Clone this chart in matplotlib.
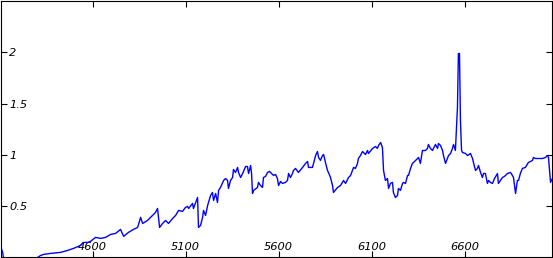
import matplotlib
matplotlib.use('Agg')
import matplotlib.pyplot as plt

# spectrum (wavelength, flux)
wave = [4106, 4117, 4122, 4160, 4267, 4305, 4321, 4337, 4375, 4428, 4466, 4498,
	4536, 4552, 4573, 4589, 4616, 4643, 4670, 4697, 4724, 4750, 4767, 4793,
	4820, 4842, 4858, 4869, 4895, 4922, 4938, 4949, 4960, 4976, 4992, 5008,
	5030, 5046, 5062, 5083, 5099, 5110, 5116, 5137, 5142, 5164, 5169, 5180,
	5191, 5196, 5207, 5218, 5234, 5244, 5250, 5261, 5271, 5277, 5287, 5304,
	5314, 5325, 5330, 5341, 5352, 5357, 5368, 5379, 5384, 5395, 5406, 5422,
	5432, 5438, 5449, 5454, 5459, 5465, 5486, 5491, 5502, 5513, 5518, 5529,
	5540, 5551, 5561, 5572, 5583, 5593, 5599, 5610, 5620, 5636, 5647, 5653,
	5663, 5674, 5679, 5690, 5706, 5728, 5744, 5755, 5760, 5781, 5787, 5798,
	5808, 5814, 5824, 5835, 5841, 5851, 5862, 5867, 5878, 5889, 5894, 5916,
	5932, 5948, 5959, 5975, 5986, 5996, 6002, 6012, 6023, 6028, 6039, 6050,
	6055, 6066, 6077, 6082, 6104, 6120, 6130, 6136, 6147, 6157, 6163, 6173,
	6184, 6190, 6200, 6211, 6216, 6227, 6238, 6243, 6254, 6265, 6270, 6281,
	6292, 6297, 6308, 6318, 6324, 6335, 6345, 6351, 6361, 6372, 6388, 6399,
	6404, 6415, 6426, 6431, 6442, 6453, 6458, 6469, 6480, 6485, 6496, 6506,
	6512, 6523, 6533, 6539, 6549, 6560, 6565, 6571, 6576, 6582, 6587, 6603,
	6614, 6630, 6641, 6646, 6657, 6667, 6673, 6684, 6694, 6700, 6710, 6721,
	6727, 6737, 6748, 6759, 6775, 6780, 6791, 6802, 6812, 6829, 6845, 6855,
	6861, 6872, 6882, 6888, 6898, 6909, 6925, 6941, 6963, 6968, 6979, 6995,
	7017, 7033, 7043, 7049, 7060, 7070]
flux = [0.107, 0.049, -0.01, -0.078, -0.078, 0.0, 0.019, 0.029, 0.039, 0.049, 0.068, 0.088,
	0.117, 0.146, 0.146, 0.156, 0.195, 0.185, 0.195, 0.224, 0.234, 0.273, 0.205, 0.244,
	0.273, 0.292, 0.39, 0.331, 0.36, 0.409, 0.438, 0.477, 0.292, 0.331, 0.36, 0.331,
	0.38, 0.409, 0.458, 0.448, 0.487, 0.497, 0.477, 0.526, 0.477, 0.584, 0.292, 0.312,
	0.39, 0.458, 0.409, 0.506, 0.604, 0.633, 0.555, 0.623, 0.536, 0.653, 0.682, 0.75,
	0.769, 0.75, 0.672, 0.75, 0.779, 0.857, 0.828, 0.877, 0.828, 0.779, 0.818, 0.886,
	0.886, 0.818, 0.896, 0.818, 0.623, 0.653, 0.682, 0.731, 0.701, 0.682, 0.779, 0.789,
	0.828, 0.838, 0.818, 0.799, 0.808, 0.769, 0.701, 0.74, 0.721, 0.731, 0.75, 0.818,
	0.779, 0.818, 0.847, 0.867, 0.828, 0.877, 0.916, 0.935, 0.877, 0.877, 0.916, 0.993,
	1.032, 0.974, 0.945, 0.993, 1.003, 0.925, 0.847, 0.828, 0.779, 0.701, 0.633, 0.682,
	0.701, 0.75, 0.721, 0.779, 0.799, 0.847, 0.877, 0.867, 0.916, 0.964, 0.993, 1.032,
	1.023, 1.003, 1.042, 1.013, 1.062, 1.081, 1.062, 1.091, 1.12, 1.071, 0.847, 0.75,
	0.769, 0.672, 0.721, 0.731, 0.633, 0.584, 0.604, 0.672, 0.653, 0.721, 0.731, 0.721,
	0.799, 0.799, 0.867, 0.916, 0.925, 0.945, 0.964, 0.974, 0.916, 1.042, 1.042, 1.062,
	1.101, 1.062, 1.042, 1.062, 1.101, 1.062, 1.11, 1.091, 1.042, 0.993, 0.916, 0.964,
	0.993, 1.013, 1.062, 1.101, 1.042, 1.461, 1.987, 1.987, 1.334, 1.042, 1.023, 1.013,
	0.993, 1.013, 0.964, 0.925, 0.847, 0.867, 0.896, 0.828, 0.779, 0.818, 0.818, 0.721,
	0.75, 0.731, 0.721, 0.769, 0.818, 0.721, 0.75, 0.779, 0.789, 0.818, 0.828, 0.799,
	0.779, 0.623, 0.75, 0.75, 0.818, 0.867, 0.877, 0.925, 0.945, 0.974, 0.964, 0.964,
	0.964, 0.974, 0.993, 0.974, 0.731, 0.769]

xticks = [4600, 5100, 5600, 6100, 6600]
yticks = [0.5, 1, 1.5, 2]
ylabels = ['0.5', '1', '1.5', '2']

fig = plt.figure(figsize=(5.53, 2.58), dpi=100)
ax = fig.add_axes([0.6 / 553, 0.6 / 258, 551.8 / 553, 256.8 / 258])

ax.plot(wave, flux, color='#0000ff', lw=1.0)
ax.set_xlim(4106, 7070)
ax.set_ylim(0, 2.503)

for s in ax.spines.values():
	s.set_linewidth(0.8)
	s.set_color('black')

# ticks point inward on all sides, labels drawn inside the frame
ax.set_xticks(xticks)
ax.set_xticklabels([str(t) for t in xticks])
ax.set_yticks(yticks)
ax.set_yticklabels(ylabels)
ax.tick_params(direction='in', length=4.5, width=0.8, top=True, right=True,
	labelsize=8.2, colors='black')
ax.tick_params(axis='x', pad=-3.6)
ax.tick_params(axis='y', pad=-6.2)
plt.setp(ax.get_xticklabels(), va='bottom', style='italic')
plt.setp(ax.get_yticklabels(), ha='left', style='italic')

fig.savefig('out.png', dpi=100)
